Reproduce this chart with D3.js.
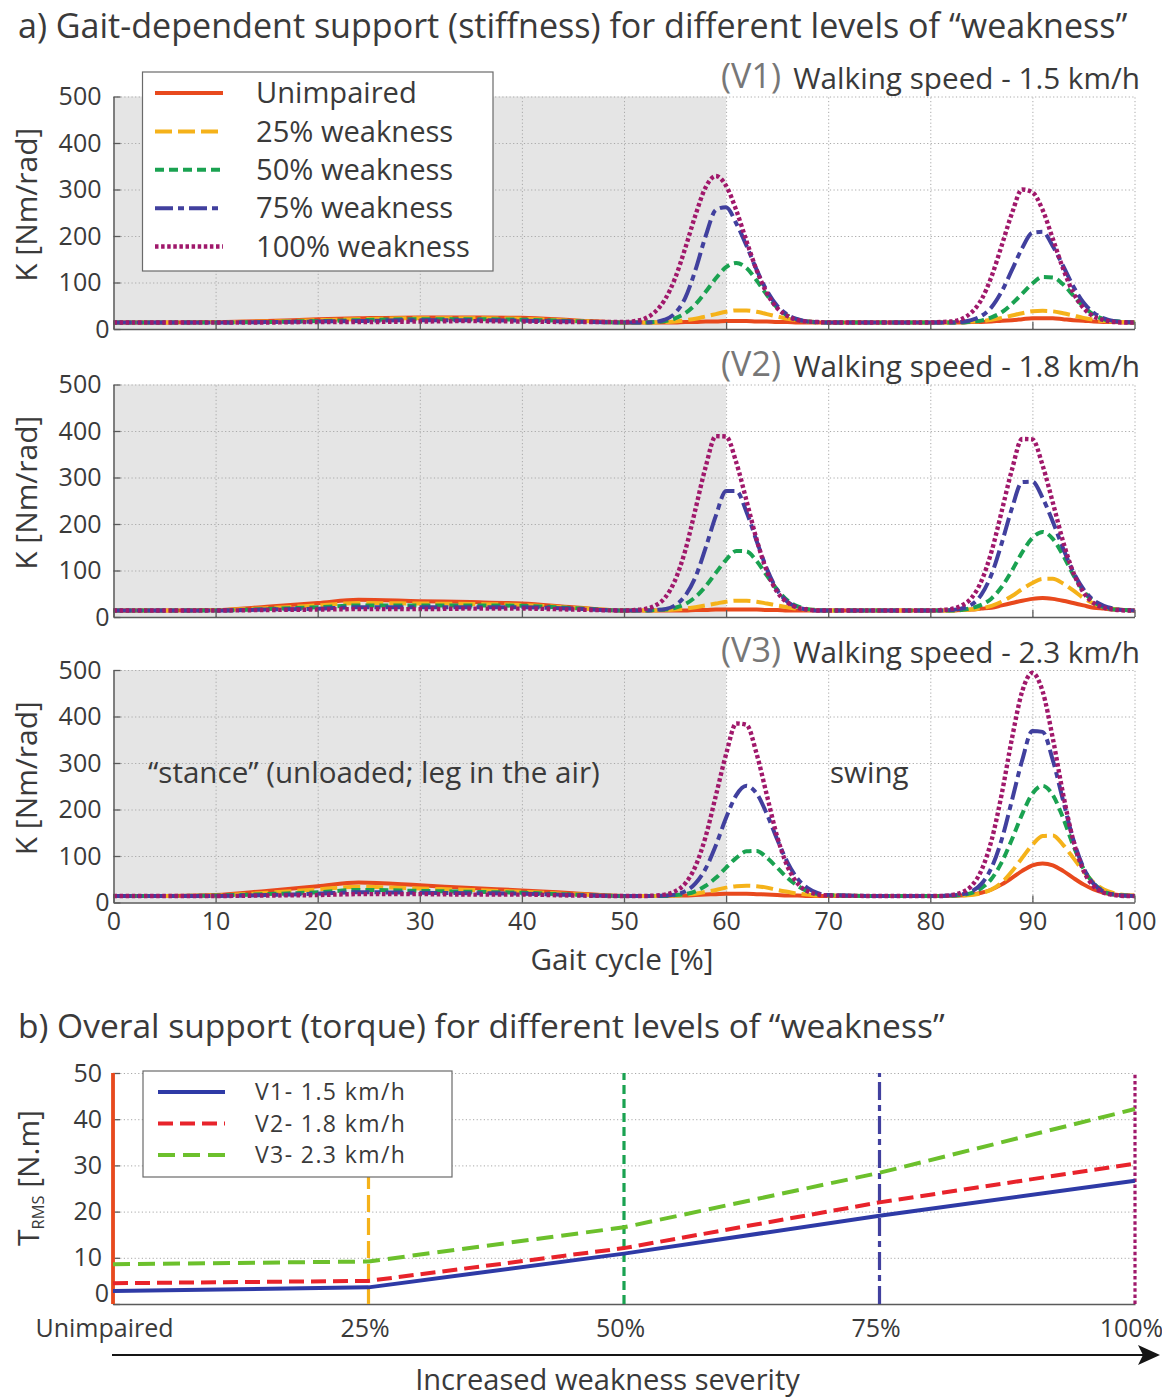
<!DOCTYPE html>
<html>
<head>
<meta charset="utf-8">
<script src="https://cdn.jsdelivr.net/npm/d3@7"></script>
<style>
  html, body { margin: 0; padding: 0; background: #fff; }
  svg { display: block; font-family: "Open Sans", sans-serif; }
</style>
</head>
<body>
<svg id="fig" width="1162" height="1398"></svg>
<script>
// ---------- data ----------
// gait cycle sample positions [%]
const gaitPct = [0,5,10,15,20,24,30,35,40,45,
  50,51,52,53,54,55,56,57,58,59,60,61,62,63,64,65,66,67,68,69,70,
  75,
  80,81,82,83,84,85,86,87,88,89,90,91,92,93,94,95,96,97,98,99,100];

const levelNames = ["Unimpaired", "25% weakness", "50% weakness", "75% weakness", "100% weakness"];

// stiffness K [Nm/rad] per weakness level, walking speed V1 (1.5 km/h)
const kV1Unimpaired = [14,14,15,17,21,23,25,25,24,19, 14,14,14,14,14,14,15,15,16,16,17,17,17,16,16,15,15,14,14,14,14, 14, 14,14,14,14,15,15,16,18,19,21,23,23,23,21,19,18,16,15,15,14,14];
const kV1W25 = [14,14,15,16,19,21,23,23,22,18, 14,14,14,14,15,16,19,22,27,32,37,40,40,37,32,27,22,19,16,15,14, 14, 14,14,14,15,16,17,20,24,29,34,38,39,38,34,29,24,20,17,16,15,14];
const kV1W50 = [14,14,14,15,17,19,21,21,20,17, 14,14,14,15,17,23,34,53,80,109,133,142,131,104,73,46,29,20,16,14,14, 14, 14,14,14,14,16,18,25,36,54,76,98,112,111,96,72,48,31,21,17,15,14];
const kV1W75 = [14,14,14,15,16,17,19,19,18,16, 14,14,14,15,20,34,67,127,200,256,262,227,179,127,82,50,31,21,16,15,14, 14, 14,14,14,15,19,28,47,81,127,174,207,209,178,136,92,57,35,23,17,15,14];
const kV1W100 = [14,14,14,14,15,15,16,17,16,15, 15,17,22,36,63,109,174,245,305,329,308,255,189,126,77,45,28,19,16,15,14, 14, 14,15,16,21,35,63,113,180,249,300,294,256,194,130,78,45,27,19,15,14,14];

// walking speed V2 (1.8 km/h)
const kV2Unimpaired = [14,14,15,22,30,37,34,32,29,21, 14,14,14,14,14,14,14,15,15,16,16,16,16,16,15,15,14,14,14,14,14, 14, 14,14,14,15,16,18,20,25,30,35,39,41,39,35,30,25,20,18,16,15,14];
const kV2W25 = [14,14,15,19,25,30,29,28,26,20, 14,14,14,14,15,16,18,21,25,29,33,35,35,33,29,25,21,18,16,15,14, 14, 14,14,14,15,16,19,24,33,45,60,73,82,82,72,57,41,29,21,17,15,14];
const kV2W50 = [14,14,14,17,21,25,25,25,24,19, 14,14,14,15,16,20,28,43,66,95,123,142,141,120,89,59,36,23,17,15,14, 14, 14,14,14,15,19,26,40,65,100,139,170,183,168,133,91,56,33,21,16,15,14];
const kV2W75 = [14,14,14,16,18,21,21,21,21,18, 14,14,14,15,17,25,46,86,149,218,271,271,226,163,103,58,33,21,16,14,14, 14, 14,14,15,18,26,48,92,159,234,290,291,256,205,148,97,60,36,24,18,15,14];
const kV2W100 = [14,14,14,15,16,17,17,18,18,16, 14,15,17,24,41,79,143,232,323,389,388,332,250,166,98,54,31,20,16,14,14, 14, 14,15,17,24,40,77,141,228,317,383,382,326,246,163,96,53,30,20,16,14,14];

// walking speed V3 (2.3 km/h)
const kV3Unimpaired = [14,14,16,25,35,43,37,31,26,20, 14,14,14,14,14,15,15,16,17,18,19,19,19,18,17,16,15,15,14,14,14, 14, 14,14,14,15,17,21,28,39,53,68,80,84,80,68,53,39,28,21,17,15,14];
const kV3W25 = [14,14,15,21,28,34,30,27,23,18, 14,14,14,14,15,15,17,19,23,27,32,35,36,35,32,27,23,19,17,15,15, 14, 14,14,14,15,16,20,28,43,67,96,124,143,144,124,96,67,43,28,20,16,15];
const kV3W50 = [14,14,15,18,22,27,25,23,21,17, 14,14,14,14,14,16,18,24,36,53,75,96,110,111,96,75,53,36,24,18,16, 14, 14,14,15,16,20,31,51,87,136,190,234,251,231,182,123,73,41,24,17,15,14];
const kV3W75 = [14,14,14,16,19,22,21,20,19,16, 14,14,14,14,15,17,24,41,73,123,182,231,251,234,190,136,87,51,31,20,16, 14, 14,14,15,17,23,40,75,136,220,306,369,367,306,220,136,75,40,23,17,15,14];
const kV3W100 = [14,14,14,15,16,18,18,17,17,15, 14,14,14,15,17,24,41,78,142,230,319,385,382,319,230,142,78,41,24,17,15, 14, 14,14,16,21,35,69,134,234,353,454,494,454,353,234,134,69,35,21,16,14,14];

const speedTags = ["(V1)", "(V2)", "(V3)"];
const speedTexts = ["Walking speed - 1.5 km/h", "Walking speed - 1.8 km/h", "Walking speed - 2.3 km/h"];
const gaitTicks = [0,10,20,30,40,50,60,70,80,90,100];
const kTicks = [0,100,200,300,400,500];
const stanceEnd = 60;

// RMS torque [N.m] per weakness level
const severityLabels = ["Unimpaired", "25%", "50%", "75%", "100%"];
const trmsV1 = [2.8, 3.6, 10.9, 19.1, 26.7];
const trmsV2 = [4.5, 5.0, 12.1, 22.0, 30.4];
const trmsV3 = [8.6, 9.2, 16.6, 28.4, 42.2];
const speedLegend = ["V1- 1.5 km/h", "V2- 1.8 km/h", "V3- 2.3 km/h"];
const tTicks = [0,10,20,30,40,50];

// ---------- styles ----------
const levelStyle = [
  { color: "#e8491d", dash: null,        width: 4 },
  { color: "#f5b21a", dash: "17,6",      width: 4 },
  { color: "#1aa251", dash: "9,5",       width: 4 },
  { color: "#41409e", dash: "18,5,6,5",  width: 4 },
  { color: "#a0186b", dash: "3.5,2.6",   width: 4.4 }
];
const speedStyle = [
  { color: "#2e3aa6", dash: null,   width: 4 },
  { color: "#e8232b", dash: "15,7", width: 4 },
  { color: "#6cc02c", dash: "17,8", width: 4 }
];
const TXT = "#3a3a3a";
const AXIS = "#5a5a5a";
const GRID = "#a9a9a9";

const svg = d3.select("#fig");

function fitSize(text, target, base) {
  const t = svg.append("text").attr("font-size", base).text(text);
  const w = t.node().getComputedTextLength();
  t.remove();
  return base * target / w;
}

function styleLine(sel, st) {
  sel.attr("fill", "none")
     .attr("stroke", st.color)
     .attr("stroke-width", st.width)
     .attr("stroke-dasharray", st.dash)
     .attr("stroke-linejoin", "round");
  return sel;
}

function draw() {
  // ===== a) stiffness panels =====
  const x = d3.scaleLinear().domain([0, 100]).range([113.5, 1134.5]);
  const panelTops = [96.5, 384.5, 670];
  const panelH = 232.5;
  const series = [
    [kV1Unimpaired, kV1W25, kV1W50, kV1W75, kV1W100],
    [kV2Unimpaired, kV2W25, kV2W50, kV2W75, kV2W100],
    [kV3Unimpaired, kV3W25, kV3W50, kV3W75, kV3W100]
  ];

  const titleSize = fitSize("a) Gait-dependent support (stiffness) for different levels of \u201Cweakness\u201D", 1110, 29);
  svg.append("text").attr("x", 18).attr("y", 38).attr("font-size", titleSize).attr("fill", TXT)
    .text("a) Gait-dependent support (stiffness) for different levels of \u201Cweakness\u201D");

  const tickSize = 25;
  const yLabSize = fitSize("K [Nm/rad]", 154, 27);
  const tagSize = fitSize("(V1)", 60, 30);
  const spSize = fitSize(speedTexts[0], 347, 27);

  series.forEach((levels, i) => {
    const top = panelTops[i], bottom = top + panelH;
    const y = d3.scaleLinear().domain([0, 500]).range([bottom, top]);
    const g = svg.append("g");

    // unloaded "stance" phase shading
    g.append("rect")
      .attr("x", x(0)).attr("y", y(500))
      .attr("width", x(stanceEnd) - x(0)).attr("height", y(0) - y(500))
      .attr("fill", "#e5e5e5");

    // dotted grid
    g.append("g").attr("transform", `translate(${x(0)},0)`)
      .call(d3.axisLeft(y).tickValues(kTicks.slice(1)).tickSize(-(x(100) - x(0))).tickFormat(""))
      .call(s => {
        s.select(".domain").remove();
        s.selectAll("line").attr("stroke", GRID).attr("stroke-dasharray", "1.2,2.4");
      });
    g.append("g").attr("transform", `translate(0,${bottom})`)
      .call(d3.axisBottom(x).tickValues(gaitTicks.slice(1)).tickSize(-(bottom - top)).tickFormat(""))
      .call(s => {
        s.select(".domain").remove();
        s.selectAll("line").attr("stroke", GRID).attr("stroke-dasharray", "1.2,2.4");
      });

    // stiffness curves
    const line = d3.line()
      .x((d, j) => x(gaitPct[j]))
      .y(d => y(d))
      .curve(d3.curveMonotoneX);
    levels.forEach((vals, k) => {
      styleLine(g.append("path").datum(vals).attr("d", line), levelStyle[k]);
    });

    // axes
    g.append("g").attr("transform", `translate(${x(0)},0)`)
      .call(d3.axisLeft(y).tickValues(kTicks).tickSizeInner(-7).tickSizeOuter(0).tickPadding(12))
      .call(s => {
        s.select(".domain").attr("stroke", AXIS).attr("stroke-width", 1.5);
        s.selectAll("line").attr("stroke", AXIS).attr("stroke-width", 1.3);
        s.selectAll("text").attr("font-size", tickSize).attr("fill", TXT).attr("font-family", "Open Sans");
        s.selectAll("text").filter(d => d === 0).attr("dx", 8);
      });
    g.append("g").attr("transform", `translate(0,${bottom})`)
      .call(d3.axisBottom(x).tickValues(gaitTicks).tickSizeInner(-7).tickSizeOuter(0).tickPadding(10)
        .tickFormat(i === 2 ? d3.format("d") : ""))
      .call(s => {
        s.select(".domain").attr("stroke", AXIS).attr("stroke-width", 1.5);
        s.selectAll("line").attr("stroke", AXIS).attr("stroke-width", 1.3);
        s.selectAll("text").attr("font-size", tickSize).attr("fill", TXT).attr("font-family", "Open Sans");
      });

    // y label
    g.append("text")
      .attr("transform", `translate(37,${(top + bottom) / 2 - 8}) rotate(-90)`)
      .attr("text-anchor", "middle").attr("font-size", yLabSize).attr("fill", TXT)
      .text("K [Nm/rad]");

    // speed heading
    g.append("text").attr("x", 1140).attr("y", top - 7.5).attr("text-anchor", "end")
      .attr("font-size", spSize).attr("fill", TXT).text(speedTexts[i]);
    g.append("text").attr("x", 781).attr("y", top - 8.5).attr("text-anchor", "end")
      .attr("font-size", tagSize).attr("fill", "#777").text(speedTags[i]);

    if (i === 2) {
      const phSize = fitSize("\u201Cstance\u201D (unloaded; leg in the air)", 452, 28);
      g.append("text").attr("x", 148).attr("y", 783).attr("font-size", phSize).attr("fill", TXT)
        .text("\u201Cstance\u201D (unloaded; leg in the air)");
      g.append("text").attr("x", 830).attr("y", 783).attr("font-size", phSize).attr("fill", TXT)
        .text("swing");
      const gcSize = fitSize("Gait cycle [%]", 183, 27);
      g.append("text").attr("x", 622).attr("y", 970).attr("text-anchor", "middle")
        .attr("font-size", gcSize).attr("fill", TXT).text("Gait cycle [%]");
    }

    if (i === 0) {
      // legend
      const lg = g.append("g");
      lg.append("rect").attr("x", 142.5).attr("y", 72).attr("width", 350.5).attr("height", 199)
        .attr("fill", "#fff").attr("stroke", "#6a6a6a").attr("stroke-width", 1.2);
      const lgSize = fitSize(levelNames[4], 214, 27);
      const rowY = d3.scaleLinear().domain([0, 4]).range([93, 246.5]);
      levelNames.forEach((nm, k) => {
        styleLine(lg.append("line").attr("x1", 155).attr("x2", 223).attr("y1", rowY(k)).attr("y2", rowY(k)), levelStyle[k]);
        lg.append("text").attr("x", 256).attr("y", rowY(k)).attr("dy", "0.35em")
          .attr("font-size", lgSize).attr("fill", TXT).text(nm);
      });
    }
  });

  // ===== b) RMS torque =====
  const titleBSize = fitSize("b) Overal support (torque) for different levels of \u201Cweakness\u201D", 927, 29);
  svg.append("text").attr("x", 18).attr("y", 1038).attr("font-size", titleBSize).attr("fill", TXT)
    .text("b) Overal support (torque) for different levels of \u201Cweakness\u201D");

  const xb = d3.scalePoint().domain(severityLabels).range([113, 1135]);
  const yb = d3.scaleLinear().domain([0, 50]).range([1304, 1073]);
  const gb = svg.append("g");

  gb.append("g").attr("transform", `translate(${xb(severityLabels[0])},0)`)
    .call(d3.axisLeft(yb).tickValues(tTicks.slice(1)).tickSize(-(xb.range()[1] - xb.range()[0])).tickFormat(""))
    .call(s => {
      s.select(".domain").remove();
      s.selectAll("line").attr("stroke", GRID).attr("stroke-dasharray", "1.2,2.4");
    });

  // bottom axis
  gb.append("g").attr("transform", `translate(0,${yb(0)})`)
    .call(d3.axisBottom(xb).tickSize(0).tickPadding(15))
    .call(s => {
      s.select(".domain").attr("stroke", AXIS).attr("stroke-width", 1.5);
      s.selectAll("text").attr("font-size", tickSize).attr("fill", TXT).attr("font-family", "Open Sans")
        .attr("dx", (d, k) => k === 0 ? -9 : -4);
    });

  // left axis labels
  gb.append("g").attr("transform", `translate(${xb(severityLabels[0])},0)`)
    .call(d3.axisLeft(yb).tickValues(tTicks).tickSizeInner(-7).tickSizeOuter(0).tickPadding(11))
    .call(s => {
      s.select(".domain").attr("stroke", AXIS).attr("stroke-width", 1.5);
      s.selectAll("line").attr("stroke", AXIS).attr("stroke-width", 1.3);
      s.selectAll("text").attr("font-size", tickSize).attr("fill", TXT).attr("font-family", "Open Sans");
      s.selectAll("text").filter(d => d === 0).attr("dx", 7).attr("y", -11);
    });

  // markers for each weakness level
  severityLabels.forEach((c, k) => {
    styleLine(gb.append("line").attr("x1", xb(c)).attr("x2", xb(c)).attr("y1", yb(0)).attr("y2", yb(50)), levelStyle[k])
      .attr("stroke-width", k === 0 ? 3.8 : 3.2);
  });

  // torque lines
  const tLine = d3.line().x((d, j) => xb(severityLabels[j])).y(d => yb(d));
  [trmsV1, trmsV2, trmsV3].forEach((vals, k) => {
    styleLine(gb.append("path").datum(vals).attr("d", tLine), speedStyle[k]);
  });

  // legend
  const lb = gb.append("g");
  lb.append("rect").attr("x", 143).attr("y", 1071).attr("width", 309).attr("height", 106)
    .attr("fill", "#fff").attr("stroke", "#6a6a6a").attr("stroke-width", 1.2);
  const rowYb = d3.scaleLinear().domain([0, 2]).range([1092, 1155]);
  speedLegend.forEach((nm, k) => {
    styleLine(lb.append("line").attr("x1", 158).attr("x2", 225).attr("y1", rowYb(k)).attr("y2", rowYb(k)), speedStyle[k]);
    lb.append("text").attr("x", 255).attr("y", rowYb(k)).attr("dy", "0.35em")
      .attr("font-size", 23).attr("letter-spacing", 1.4).attr("fill", TXT).text(nm);
  });

  // y label T_RMS [N.m]
  const tl = gb.append("text")
    .attr("transform", `translate(39,1178) rotate(-90)`)
    .attr("text-anchor", "middle").attr("font-size", yLabSize).attr("fill", TXT);
  tl.append("tspan").text("T");
  tl.append("tspan").attr("font-size", yLabSize * 0.55).attr("dy", 5).text("RMS");
  tl.append("tspan").attr("dy", -5).text(" [N.m]");

  // severity arrow
  gb.append("line").attr("x1", 112).attr("x2", 1148).attr("y1", 1355).attr("y2", 1355)
    .attr("stroke", "#151515").attr("stroke-width", 2.2);
  gb.append("path").attr("d", "M1160,1355 L1138,1345 L1143,1355 L1138,1365 Z").attr("fill", "#151515");
  const incSize = fitSize("Increased weakness severity", 385, 27);
  gb.append("text").attr("x", 607.5).attr("y", 1390).attr("text-anchor", "middle")
    .attr("font-size", incSize).attr("fill", TXT).text("Increased weakness severity");
}

document.fonts.ready.then(draw);
</script>
</body>
</html>
